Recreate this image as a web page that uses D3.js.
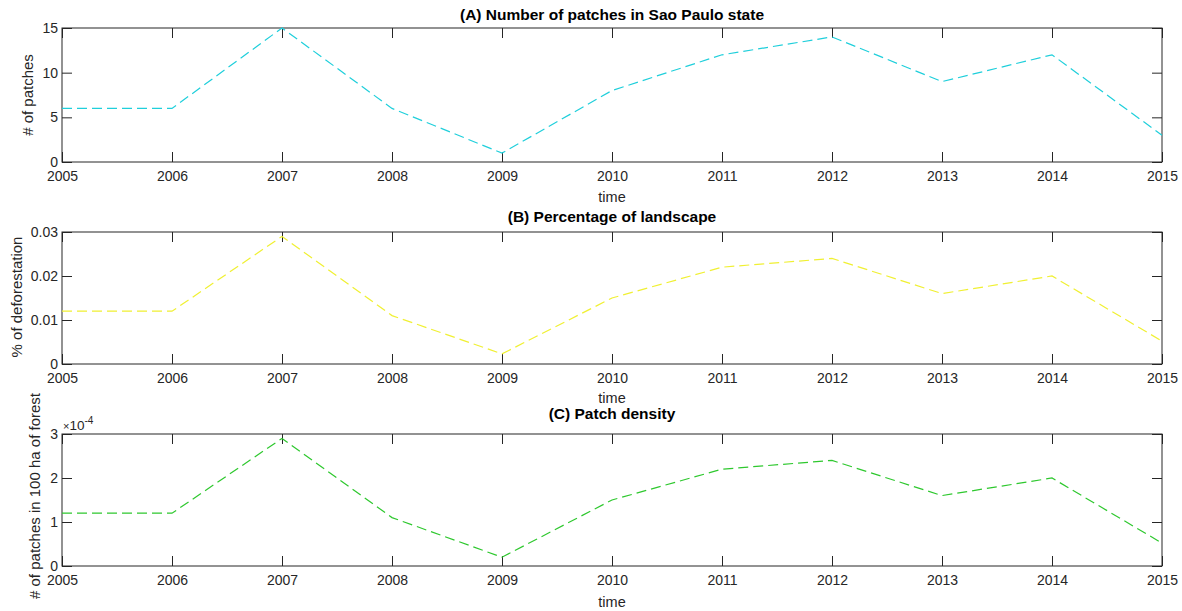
<!DOCTYPE html>
<html>
<head>
<meta charset="utf-8">
<script src="https://cdn.jsdelivr.net/npm/d3@7"></script>
<style>
  body { margin: 0; background: #fff; }
  svg { font-family: "Liberation Sans", Arial, sans-serif; }
</style>
</head>
<body>
<svg id="chart"></svg>
<script>
const years = [2005, 2006, 2007, 2008, 2009, 2010, 2011, 2012, 2013, 2014, 2015];

const patches = [6, 6, 15, 6, 1, 8, 12, 14, 9, 12, 3];
const deforestation = [0.012, 0.012, 0.029, 0.011, 0.0023, 0.015, 0.022, 0.024, 0.016, 0.020, 0.0052];
const density = [1.2e-4, 1.2e-4, 2.9e-4, 1.1e-4, 0.2e-4, 1.5e-4, 2.2e-4, 2.4e-4, 1.6e-4, 2.0e-4, 0.52e-4];

const titles = ["(A) Number of patches in Sao Paulo state", "(B) Percentage of landscape", "(C) Patch density"];
const yLabels = ["# of patches", "% of deforestation", "# of patches in 100 ha of forest"];
const yTicksA = [0, 5, 10, 15];
const yTicksB = [0, 0.01, 0.02, 0.03];
const yTicksC = [0, 1e-4, 2e-4, 3e-4];

const width = 1182;
const height = 611;
const left = 62, right = 1162;
const axisColor = "#262626";
const tickFont = "14px";
const labelFont = "15.5px";

const svg = d3.select("#chart")
  .attr("width", width)
  .attr("height", height);

const x = d3.scaleLinear()
  .domain([2005, 2015])
  .range([left, right]);

const panels = [
  { values: patches, ticks: yTicksA, top: 28, bottom: 162, color: "#1fcfdb", fmt: d => d, labelX: 28, labelY: 95, labelSize: "15px", title: titles[0], ylabel: yLabels[0], titleY: 15, timeY: 197 },
  { values: deforestation, ticks: yTicksB, top: 232, bottom: 364, color: "#f0f032", fmt: d => d === 0 ? "0" : d3.format(".2f")(d), labelX: 17, labelY: 297, labelSize: "15px", title: titles[1], ylabel: yLabels[1], titleY: 217, timeY: 398 },
  { values: density, ticks: yTicksC, top: 434, bottom: 566, color: "#2ec82e", fmt: d => Math.round(d * 1e4), labelX: 35, labelY: 496, labelSize: "15px", title: titles[2], ylabel: yLabels[2], titleY: 414, timeY: 602, exponent: true }
];

panels.forEach(p => {
  const y = d3.scaleLinear()
    .domain([0, p.ticks[p.ticks.length - 1]])
    .range([p.bottom, p.top]);

  const g = svg.append("g");

  g.append("rect")
    .attr("x", left)
    .attr("y", p.top)
    .attr("width", right - left)
    .attr("height", p.bottom - p.top)
    .attr("fill", "none")
    .attr("stroke", axisColor)
    .attr("stroke-width", 1);

  // ticks point inward on all four sides, labels only bottom and left
  const xb = g.append("g")
    .attr("transform", `translate(0,${p.bottom})`)
    .call(d3.axisBottom(x).tickValues(years).tickFormat(d3.format("d")).tickSizeInner(-10).tickSizeOuter(0).tickPadding(9));
  const xt = g.append("g")
    .attr("transform", `translate(0,${p.top})`)
    .call(d3.axisTop(x).tickValues(years).tickFormat("").tickSizeInner(-10).tickSizeOuter(0));
  const yl = g.append("g")
    .attr("transform", `translate(${left},0)`)
    .call(d3.axisLeft(y).tickValues(p.ticks).tickFormat(p.fmt).tickSizeInner(-10).tickSizeOuter(0).tickPadding(4));
  const yr = g.append("g")
    .attr("transform", `translate(${right},0)`)
    .call(d3.axisRight(y).tickValues(p.ticks).tickFormat("").tickSizeInner(-10).tickSizeOuter(0));

  [xb, xt, yl, yr].forEach(a => {
    a.select(".domain").remove();
    a.selectAll("line").attr("stroke", axisColor);
    a.selectAll("text")
      .attr("fill", axisColor)
      .style("font-size", tickFont)
      .style("font-family", "Liberation Sans, Arial, sans-serif");
  });

  const line = d3.line()
    .x((d, i) => x(years[i]))
    .y(d => y(d));

  g.append("path")
    .datum(p.values)
    .attr("d", line)
    .attr("fill", "none")
    .attr("stroke", p.color)
    .attr("stroke-width", 1.2)
    .attr("stroke-dasharray", "10,5");

  g.append("text")
    .attr("x", (left + right) / 2)
    .attr("y", p.titleY)
    .attr("dy", "0.35em")
    .attr("text-anchor", "middle")
    .attr("font-weight", "bold")
    .attr("font-size", labelFont)
    .attr("fill", "#000")
    .text(p.title);

  g.append("text")
    .attr("x", (left + right) / 2)
    .attr("y", p.timeY)
    .attr("dy", "0.35em")
    .attr("text-anchor", "middle")
    .attr("font-size", "14.5px")
    .attr("fill", axisColor)
    .text("time");

  g.append("text")
    .attr("transform", `translate(${p.labelX},${p.labelY}) rotate(-90)`)
    .attr("dy", "0.35em")
    .attr("text-anchor", "middle")
    .attr("font-size", p.labelSize)
    .attr("fill", axisColor)
    .text(p.ylabel);

  if (p.exponent) {
    const ex = g.append("text")
      .attr("x", left + 1)
      .attr("y", p.top - 4)
      .attr("font-size", "13.5px")
      .attr("fill", axisColor);
    ex.append("tspan").text("\u00d7").attr("font-size", "11px");
    ex.append("tspan").text("10");
    ex.append("tspan").text("-4").attr("font-size", "10px").attr("dy", "-6");
  }
});
</script>
</body>
</html>
